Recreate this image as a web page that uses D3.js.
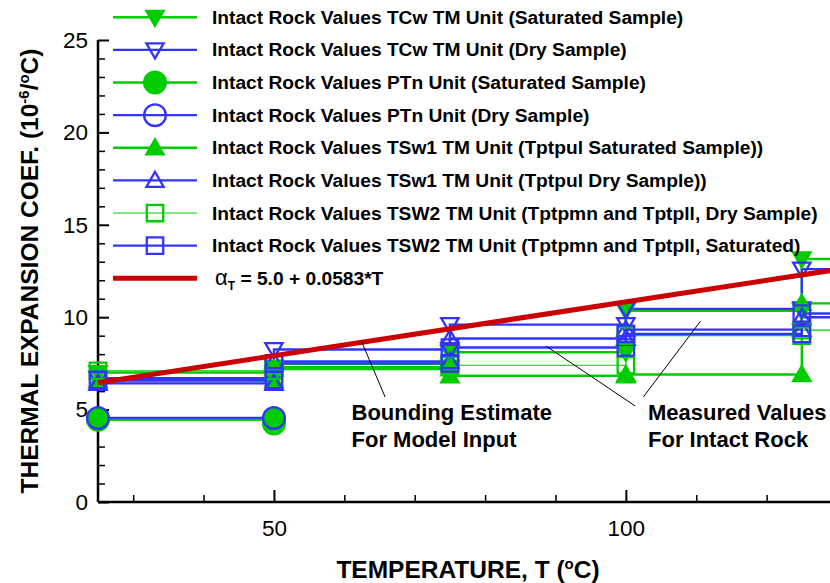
<!DOCTYPE html>
<html>
<head>
<meta charset="utf-8">
<script src="https://cdn.jsdelivr.net/npm/d3@7"></script>
<style>
  html, body { margin: 0; padding: 0; background: #fff; }
  svg { display: block; font-family: "Liberation Sans", Arial, Helvetica, sans-serif; }
</style>
</head>
<body>
<svg id="chart" width="830" height="583"></svg>
<script>
// Thermal expansion coefficient (10^-6/°C) over temperature intervals, as [T, value] step points
const tcwSaturated  = [[25,7.0],[50,7.0],[50,7.3],[75,7.3],[75,8.1],[100,8.1],[100,10.35],[125,10.35],[125,13.15],[150,13.15]];
const tcwDry        = [[25,6.7],[50,6.7],[50,8.25],[75,8.25],[75,9.6],[100,9.6],[100,10.45],[125,10.45],[125,12.6],[150,12.6]];
const ptnSaturated  = [[25,4.45],[50,4.45],[50,4.25]];
const ptnDry        = [[25,4.55],[50,4.55]];
const tsw1Saturated = [[25,6.55],[50,6.55],[50,7.2],[75,7.2],[75,6.83],[100,6.83],[100,6.9],[125,6.9],[125,10.75],[150,10.75]];
const tsw1Dry       = [[25,6.42],[50,6.42],[50,7.6],[75,7.6],[75,8.85],[100,8.85],[100,9.33],[125,9.33],[125,10.0],[150,10.0]];
const tsw2Dry       = [[25,7.1],[50,7.1],[50,7.45],[75,7.45],[75,7.4],[100,7.4],[100,9.0],[125,9.0],[125,9.3],[150,9.3]];
const tsw2Saturated = [[25,6.6],[50,6.6],[50,7.5],[75,7.5],[75,8.36],[100,8.36],[100,9.1],[125,9.1],[125,10.2],[150,10.2]];

// Bounding estimate: alphaT = 5.0 + 0.0583*T
const boundIntercept = 5.0;
const boundSlope = 0.0583;
const boundRange = [25, 130];

const legendLabels = [
  "Intact Rock Values TCw TM Unit (Saturated Sample)",
  "Intact Rock Values TCw TM Unit (Dry Sample)",
  "Intact Rock Values PTn Unit (Saturated Sample)",
  "Intact Rock Values PTn Unit (Dry Sample)",
  "Intact Rock Values TSw1 TM Unit (Tptpul Saturated Sample))",
  "Intact Rock Values TSw1 TM Unit (Tptpul Dry Sample))",
  "Intact Rock Values TSW2 TM Unit (Tptpmn and Tptpll, Dry Sample)",
  "Intact Rock Values TSW2 TM Unit (Tptpmn and Tptpll, Saturated)"
];

const xMajorTicks = [50, 100];
const xMinorTicks = [30, 40, 60, 70, 80, 90, 110, 120, 130];
const yMajorTicks = [0, 5, 10, 15, 20, 25];
const yMinorTicks = d3.range(0, 26).filter(v => v % 5 !== 0);

const GREEN = "#00cc00", BLUE = "#3333ff", RED = "#cc0000";

const series = [
  { data: tcwSaturated,  color: GREEN, shape: "down",     filled: true,  lw: 2.4 },
  { data: tcwDry,        color: BLUE,  shape: "down",     filled: false, lw: 2.4 },
  { data: ptnSaturated,  color: GREEN, shape: "circle",   filled: true,  lw: 2.4 },
  { data: ptnDry,        color: BLUE,  shape: "circle",   filled: false, lw: 2.4 },
  { data: tsw1Saturated, color: GREEN, shape: "up",       filled: true,  lw: 2.4 },
  { data: tsw1Dry,       color: BLUE,  shape: "up",       filled: false, lw: 2.4 },
  { data: tsw2Dry,       color: GREEN, shape: "square",   filled: false, lw: 1.2 },
  { data: tsw2Saturated, color: BLUE,  shape: "square",   filled: false, lw: 2.4 }
];
series.forEach((s, i) => s.label = legendLabels[i]);

const svg = d3.select("#chart");
const x = d3.scaleLinear().domain([25, 130]).range([98, 837]);
const y = d3.scaleLinear().domain([0, 25]).range([502, 40]);

// marker path generator
function markerPath(shape) {
  if (shape === "circle") return d3.symbol(d3.symbolCircle, 370)();
  if (shape === "square") return d3.symbol(d3.symbolSquare, 270)();
  return d3.symbol(d3.symbolTriangle, 130)();
}
function drawMarker(g, shape, filled, color, cx, cy) {
  const rot = shape === "down" ? 180 : 0;
  const dy = shape === "down" ? -1.5 : (shape === "up" ? 1.5 : 0);
  g.append("path")
    .attr("d", markerPath(shape))
    .attr("transform", `translate(${cx},${cy + dy}) rotate(${rot})`)
    .attr("fill", filled ? color : "none")
    .attr("stroke", color)
    .attr("stroke-width", 2.3);
}

// axes
const xAxisMajor = d3.axisBottom(x).tickValues(xMajorTicks).tickSizeInner(-12).tickSizeOuter(0).tickPadding(18);
const xAxisMinor = d3.axisBottom(x).tickValues(xMinorTicks).tickSizeInner(-7).tickSizeOuter(0).tickFormat("");
const yAxisMajor = d3.axisLeft(y).tickValues(yMajorTicks).tickSizeInner(-11).tickSizeOuter(0).tickPadding(10);
const yAxisMinor = d3.axisLeft(y).tickValues(yMinorTicks).tickSizeInner(-7).tickSizeOuter(0).tickFormat("");

function styleAxis(g) {
  g.select(".domain").remove();
  g.selectAll(".tick line").attr("stroke", "#000").attr("stroke-width", 1.5);
  g.selectAll(".tick text").attr("font-size", 22.5).attr("fill", "#000")
    .attr("font-family", "'Liberation Sans', Arial, sans-serif");
}
svg.append("g").attr("transform", "translate(0,502)").call(xAxisMinor).call(styleAxis);
svg.append("g").attr("transform", "translate(0,502)").call(xAxisMajor).call(styleAxis)
  .selectAll(".tick line").attr("stroke-width", 2);
svg.append("g").attr("transform", "translate(98,0)").call(yAxisMinor).call(styleAxis);
svg.append("g").attr("transform", "translate(98,0)").call(yAxisMajor).call(styleAxis)
  .selectAll(".tick line").attr("stroke-width", 2);

// axis lines
svg.append("line").attr("x1", 98).attr("x2", 830).attr("y1", 502).attr("y2", 502)
  .attr("stroke", "#000").attr("stroke-width", 2.5);
svg.append("line").attr("x1", 98).attr("x2", 98).attr("y1", y(25)).attr("y2", 502)
  .attr("stroke", "#000").attr("stroke-width", 2.5);

// data series
const line = d3.line().x(d => x(d[0])).y(d => y(d[1]));
const plot = svg.append("g");
series.forEach(s => {
  plot.append("path").attr("d", line(s.data)).attr("fill", "none")
    .attr("stroke", s.color).attr("stroke-width", s.lw);
});
series.forEach(s => {
  s.data.forEach(d => drawMarker(plot, s.shape, s.filled, s.color, x(d[0]), y(d[1])));
});

// bounding estimate line
const boundPts = boundRange.map(t => [t, boundIntercept + boundSlope * t]);
plot.append("path").attr("d", line(boundPts)).attr("fill", "none")
  .attr("stroke", RED).attr("stroke-width", 5);

// annotations with leader lines
const leaders = [
  [[62.5, 8.64], [65.8, 5.68]],
  [[88.7, 8.43], [101.3, 5.2]],
  [[110.6, 9.78], [102.5, 5.69]]
];
leaders.forEach(l => {
  svg.append("line").attr("x1", x(l[0][0])).attr("y1", y(l[0][1]))
    .attr("x2", x(l[1][0])).attr("y2", y(l[1][1]))
    .attr("stroke", "#000").attr("stroke-width", 1);
});
const notes = [
  { x: 351.5, y: 420, text: "Bounding Estimate" },
  { x: 351.5, y: 446.7, text: "For Model Input" },
  { x: 648, y: 420, text: "Measured Values" },
  { x: 648, y: 446.7, text: "For Intact Rock" }
];
svg.selectAll("text.note").data(notes).join("text").attr("class", "note")
  .attr("x", d => d.x).attr("y", d => d.y).attr("font-size", 22).attr("font-weight", "bold")
  .text(d => d.text);

// legend
const legend = svg.append("g");
const rowY = i => 17.3 + i * 32.62;
series.forEach((s, i) => {
  const cy = rowY(i);
  legend.append("line").attr("x1", 113).attr("x2", 197).attr("y1", cy).attr("y2", cy)
    .attr("stroke", s.color).attr("stroke-width", s.lw);
  drawMarker(legend, s.shape, s.filled, s.color, 155, cy);
  legend.append("text").attr("x", 212).attr("y", cy + 6.5)
    .attr("font-size", 19.2).attr("font-weight", "bold").text(s.label);
});
{
  const cy = rowY(8);
  legend.append("line").attr("x1", 113).attr("x2", 197).attr("y1", cy).attr("y2", cy)
    .attr("stroke", RED).attr("stroke-width", 5);
  const t = legend.append("text").attr("x", 215).attr("y", cy + 6.5).attr("font-size", 19.2);
  t.append("tspan").attr("font-size", 22).text("\u03b1");
  t.append("tspan").attr("font-size", 12).attr("font-weight", "bold").attr("dy", 5).text("T");
  t.append("tspan").attr("dy", -5).attr("font-weight", "bold").text(" = 5.0 + 0.0583*T");
}

// axis titles
const xt = svg.append("text").attr("x", 468).attr("y", 578).attr("text-anchor", "middle")
  .attr("font-size", 24.5).attr("font-weight", "bold");
xt.append("tspan").text("TEMPERATURE, T (");
xt.append("tspan").attr("font-size", 15).attr("dy", -9).text("o");
xt.append("tspan").attr("dy", 9).text("C)");

const yt = svg.append("text").attr("transform", "translate(38,271) rotate(-90)")
  .attr("text-anchor", "middle").attr("font-size", 24.5).attr("font-weight", "bold");
yt.append("tspan").text("THERMAL EXPANSION COEF. (10");
yt.append("tspan").attr("font-size", 15).attr("dy", -9).text("-6");
yt.append("tspan").attr("dy", 9).text("/");
yt.append("tspan").attr("font-size", 15).attr("dy", -9).text("o");
yt.append("tspan").attr("dy", 9).text("C)");
</script>
</body>
</html>
